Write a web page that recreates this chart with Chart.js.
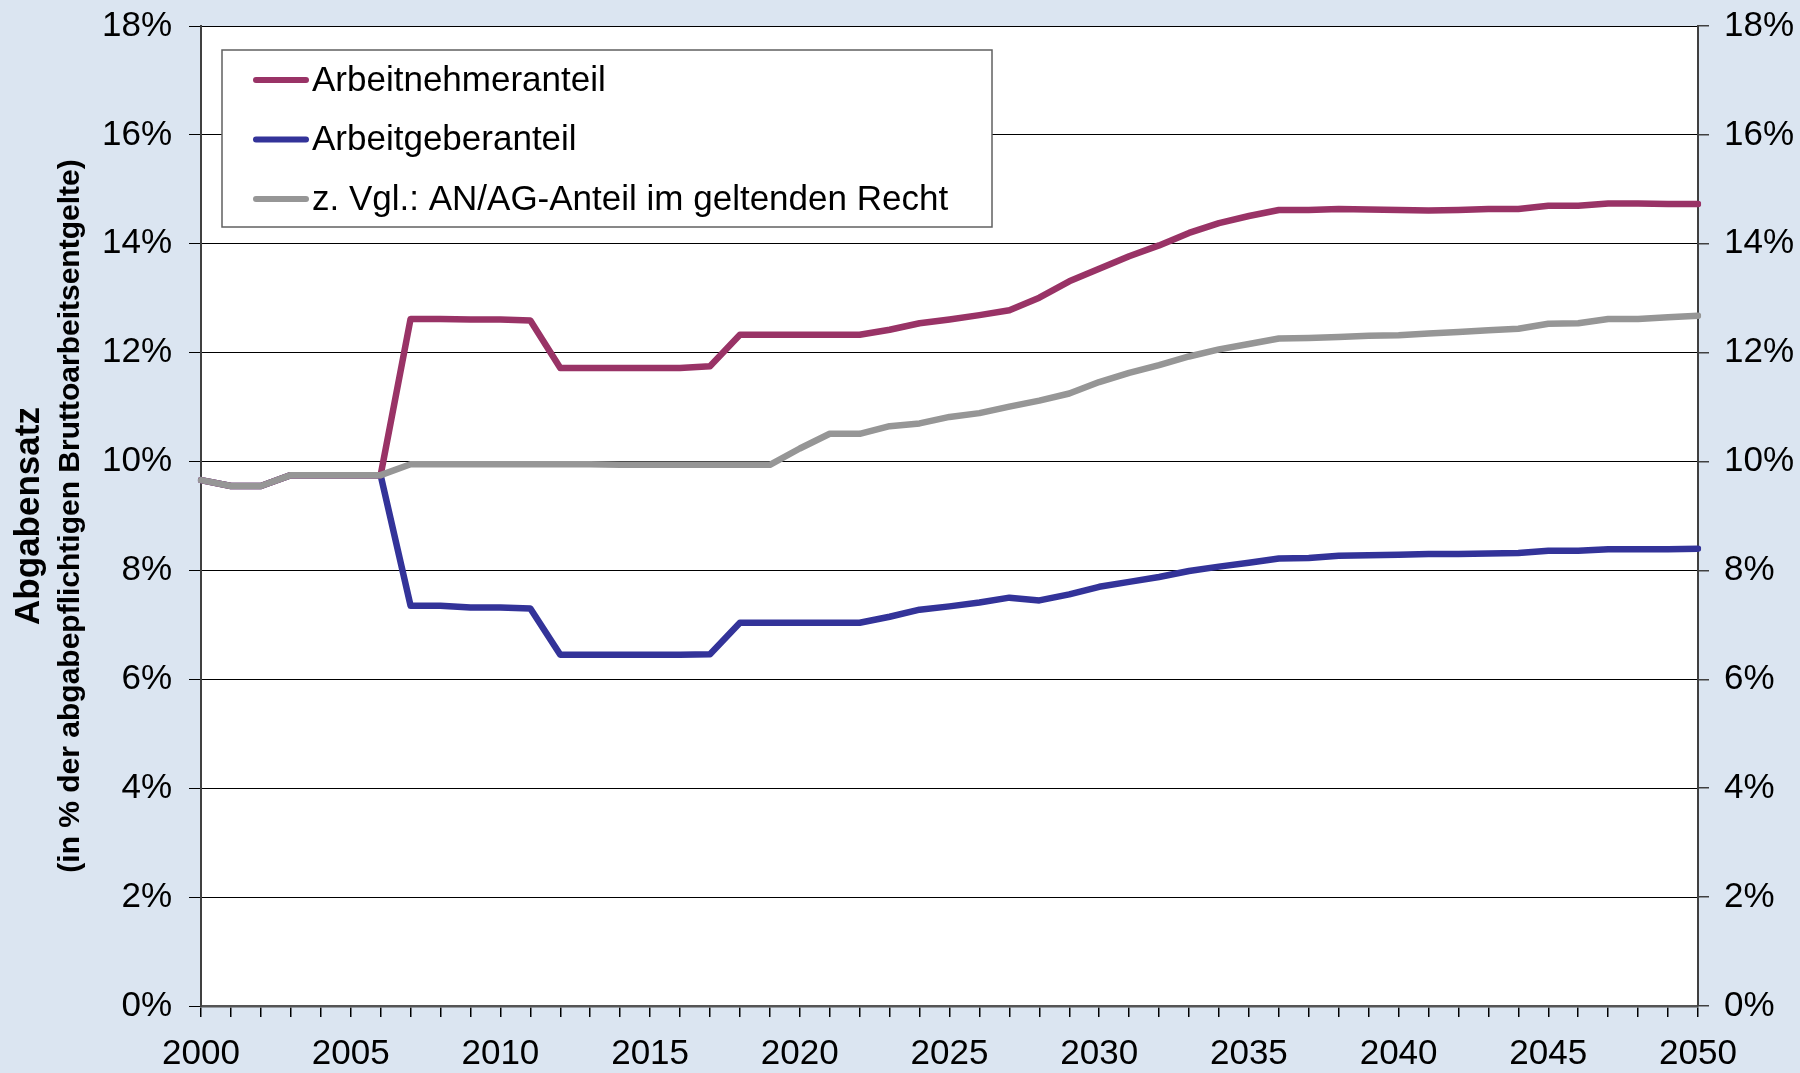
<!DOCTYPE html>
<html>
<head>
<meta charset="utf-8">
<script src="https://cdn.jsdelivr.net/npm/chart.js@4/dist/chart.umd.min.js"></script>
<style>
  body { margin: 0; background: #dbe5f1; }
  canvas { display: block; }
</style>
</head>
<body>
<canvas id="myChart" width="1800" height="1073"></canvas>
<script>
// data

const years = [
  2000, 2001, 2002, 2003, 2004, 2005, 2006, 2007, 2008, 2009,
  2010, 2011, 2012, 2013, 2014, 2015, 2016, 2017, 2018, 2019,
  2020, 2021, 2022, 2023, 2024, 2025, 2026, 2027, 2028, 2029,
  2030, 2031, 2032, 2033, 2034, 2035, 2036, 2037, 2038, 2039,
  2040, 2041, 2042, 2043, 2044, 2045, 2046, 2047, 2048, 2049,
  2050
];

const arbeitnehmer = [
  9.66, 9.55, 9.55, 9.75, 9.75, 9.75, 9.75, 12.62, 12.62, 12.61,
  12.61, 12.59, 11.72, 11.72, 11.72, 11.72, 11.72, 11.75, 12.33, 12.33,
  12.33, 12.33, 12.33, 12.42, 12.54, 12.61, 12.69, 12.78, 13.01, 13.31,
  13.54, 13.77, 13.97, 14.20, 14.38, 14.51, 14.62, 14.62, 14.64, 14.63,
  14.62, 14.61, 14.62, 14.64, 14.64, 14.70, 14.70, 14.74, 14.74, 14.73,
  14.73
];

const arbeitgeber = [
  9.66, 9.55, 9.55, 9.75, 9.75, 9.75, 9.75, 7.35, 7.35, 7.32,
  7.32, 7.30, 6.45, 6.45, 6.45, 6.45, 6.45, 6.46, 7.04, 7.04,
  7.04, 7.04, 7.04, 7.15, 7.28, 7.34, 7.41, 7.50, 7.45, 7.56,
  7.70, 7.79, 7.88, 7.99, 8.07, 8.14, 8.22, 8.23, 8.27, 8.28,
  8.29, 8.30, 8.30, 8.31, 8.32, 8.36, 8.36, 8.39, 8.39, 8.39,
  8.40
];

// z. Vgl.: geltendes Recht
const geltendesRecht = [
  9.66, 9.55, 9.55, 9.75, 9.75, 9.75, 9.75, 9.95, 9.95, 9.95,
  9.95, 9.95, 9.95, 9.95, 9.94, 9.94, 9.94, 9.94, 9.94, 9.94,
  10.24, 10.51, 10.51, 10.65, 10.70, 10.82, 10.89, 11.01, 11.12, 11.25,
  11.46, 11.63, 11.77, 11.93, 12.06, 12.16, 12.26, 12.27, 12.29, 12.31,
  12.32, 12.35, 12.38, 12.41, 12.44, 12.53, 12.54, 12.62, 12.62, 12.65,
  12.68
];

const seriesNames = [
  'Arbeitnehmeranteil',
  'Arbeitgeberanteil',
  'z. Vgl.: AN/AG-Anteil im geltenden Recht'
];
const seriesColors = ['#993366', '#333399', '#969696'];

const yTitle = 'Abgabensatz';
const ySubTitle = '(in % der abgabepflichtigen Bruttoarbeitsentgelte)';

const FONT = '"Liberation Sans", Arial, sans-serif';

// plugins

const plotBackground = {
  id: 'plotBackground',
  beforeDraw(chart) {
    const { ctx, chartArea } = chart;
    ctx.save();
    ctx.fillStyle = '#dbe5f1';
    ctx.fillRect(0, 0, chart.width, chart.height);
    ctx.fillStyle = '#ffffff';
    ctx.fillRect(chartArea.left, chartArea.top, chartArea.right - chartArea.left, chartArea.bottom - chartArea.top);
    ctx.restore();
  }
};

const axisTitle = {
  id: 'axisTitle',
  afterDraw(chart) {
    const { ctx, chartArea } = chart;
    const cy = (chartArea.top + chartArea.bottom) / 2;
    ctx.save();
    ctx.fillStyle = '#000';
    ctx.textAlign = 'center';
    ctx.textBaseline = 'middle';
    ctx.translate(29, cy);
    ctx.rotate(-Math.PI / 2);
    ctx.font = 'bold 35px ' + FONT;
    ctx.fillText(yTitle, 0, 0);
    ctx.font = 'bold 30px ' + FONT;
    ctx.fillText(ySubTitle, 0, 42);
    ctx.restore();
  }
};

// legend inside the plot area, with a box
const boxLegend = {
  id: 'boxLegend',
  afterDraw(chart) {
    const { ctx, chartArea } = chart;
    const x = chartArea.left + 21;
    const y = chartArea.top + 24;
    const w = 770, h = 177;
    ctx.save();
    ctx.fillStyle = '#ffffff';
    ctx.fillRect(x, y, w, h);
    ctx.strokeStyle = '#606060';
    ctx.lineWidth = 1.5;
    ctx.strokeRect(x, y, w, h);
    ctx.font = '35px ' + FONT;
    ctx.textBaseline = 'middle';
    ctx.textAlign = 'left';
    chart.data.datasets.forEach((ds, i) => {
      const rowY = y + 30 + i * 59.5;
      ctx.strokeStyle = ds.borderColor;
      ctx.lineWidth = 6;
      ctx.lineCap = 'round';
      ctx.beginPath();
      ctx.moveTo(x + 34, rowY);
      ctx.lineTo(x + 84, rowY);
      ctx.stroke();
      ctx.fillStyle = '#000';
      ctx.fillText(ds.label, x + 90, rowY + 1);
    });
    ctx.restore();
  }
};

// fixed sizes for the axes, no extra padding for the end labels
function fixWidth(w) {
  return function (scale) {
    scale.width = w;
    scale.paddingTop = 0;
    scale.paddingBottom = 0;
  };
}

const data = {
  labels: years,
  datasets: [
    { label: seriesNames[0], data: arbeitnehmer, borderColor: seriesColors[0], order: 1 },
    { label: seriesNames[1], data: arbeitgeber, borderColor: seriesColors[1], order: 1 },
    { label: seriesNames[2], data: geltendesRecht, borderColor: seriesColors[2], order: 0 }
  ].map(ds => Object.assign(ds, {
    borderWidth: 6.5,
    pointRadius: 0,
    tension: 0,
    fill: false,
    borderJoinStyle: 'round',
    borderCapStyle: 'round'
  }))
};

const config = {
  type: 'line',
  data,
  options: {
    responsive: false,
    animation: false,
    layout: { padding: { top: 26, left: 0, right: 0, bottom: 0 } },
    plugins: {
      legend: { display: false },
      tooltip: { enabled: false }
    },
    scales: {
      x: {
        offset: false,
        grid: { drawOnChartArea: false, drawTicks: true, tickLength: 11, color: '#000', lineWidth: 1.5 },
        border: { display: true, color: '#555', width: 2.5 },
        ticks: {
          autoSkip: false,
          maxRotation: 0,
          padding: 16,
          color: '#000',
          font: { family: FONT, size: 35 },
          callback: function (value, index) {
            const yr = years[index];
            return yr % 5 === 0 ? String(yr) : '';
          }
        },
        afterFit: function (scale) { scale.height = 67; }
      },
      y: {
        position: 'left',
        min: 0,
        max: 18,
        grid: { color: '#000', lineWidth: 1, tickLength: 12 },
        border: { display: true, color: '#404040', width: 2 },
        ticks: {
          stepSize: 2,
          padding: 17,
          color: '#000',
          font: { family: FONT, size: 35 },
          callback: function (value) { return value + '%'; }
        },
        afterFit: fixWidth(201)
      },
      y2: {
        position: 'right',
        min: 0,
        max: 18,
        grid: { drawOnChartArea: false, color: '#404040', lineWidth: 1.5, tickLength: 11 },
        border: { display: true, color: '#404040', width: 2 },
        ticks: {
          stepSize: 2,
          padding: 15,
          color: '#000',
          font: { family: FONT, size: 35 },
          callback: function (value) { return value + '%'; }
        },
        afterFit: fixWidth(102)
      }
    }
  },
  plugins: [plotBackground, axisTitle, boxLegend]
};

const myChart = new Chart(
  document.getElementById('myChart'),
  config
);
</script>
</body>
</html>
